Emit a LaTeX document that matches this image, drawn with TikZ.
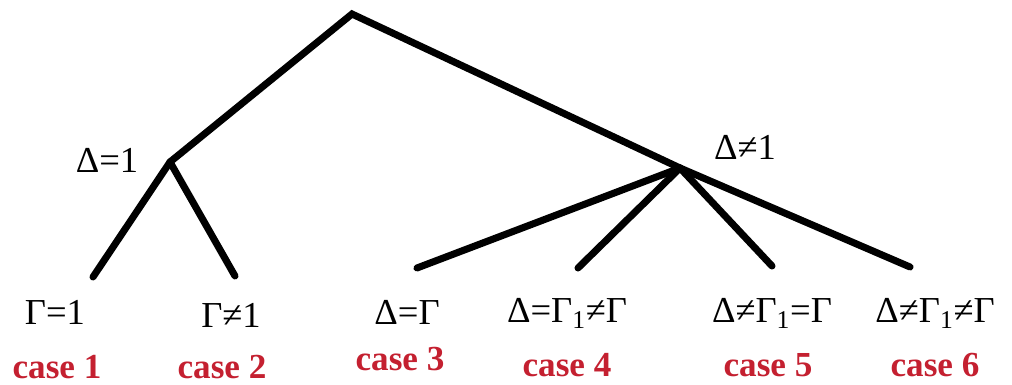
\documentclass[tikz,border=0pt]{standalone}
\usepackage{fontspec}
\setmainfont{Liberation Serif}
\usepackage{xcolor}
\definecolor{casered}{RGB}{196,32,48}

\begin{document}
\begin{tikzpicture}[
  x=0.025cm, y=-0.025cm,
  branch/.style   = {line width=5pt, line cap=round, draw=black},
  cond/.style     = {font=\fontsize{26}{30}\selectfont, inner sep=0pt, anchor=base},
  casename/.style = {font=\fontsize{25}{30}\selectfont\bfseries, text=casered,
                     inner sep=0pt, anchor=base}
]
\useasboundingbox (0,0) rectangle (1012,385);

% branch points
\coordinate (root) at (352,14);
\coordinate (d1)   at (170,162);
\coordinate (dn1)  at (680,168);

% leaf ends
\coordinate (e1) at (93,277);
\coordinate (e2) at (235,276);
\coordinate (e3) at (417,268);
\coordinate (e4) at (578,268);
\coordinate (e5) at (772,266);
\coordinate (e6) at (910,267);

\draw[branch] (d1) -- (root) -- (dn1);
\draw[branch] (d1) -- (e1);
\draw[branch] (d1) -- (e2);
\draw[branch] (dn1) -- (e3);
\draw[branch] (dn1) -- (e4);
\draw[branch] (dn1) -- (e5);
\draw[branch] (dn1) -- (e6);

% inner labels
\node[cond] (lab1)  at (107,173) {Δ=1};
\node[cond] (labn1) at (745,160) {Δ≠1};

% leaf conditions
\node[cond] (c1) at (55,325)  {Γ=1};
\node[cond] (c2) at (231,328) {Γ≠1};
\node[cond] (c3) at (407,325) {Δ=Γ};
\node[cond] (c4) at (567,323) {Δ=Γ\textsubscript{1}≠Γ};
\node[cond] (c5) at (772,323) {Δ≠Γ\textsubscript{1}=Γ};
\node[cond] (c6) at (935,323) {Δ≠Γ\textsubscript{1}≠Γ};

% case names
\node[casename] (k1) at (57,378)  {case 1};
\node[casename] (k2) at (222,378) {case 2};
\node[casename] (k3) at (400,370) {case 3};
\node[casename] (k4) at (567,377) {case 4};
\node[casename] (k5) at (768,377) {case 5};
\node[casename] (k6) at (935,377) {case 6};

\end{tikzpicture}
\end{document}
